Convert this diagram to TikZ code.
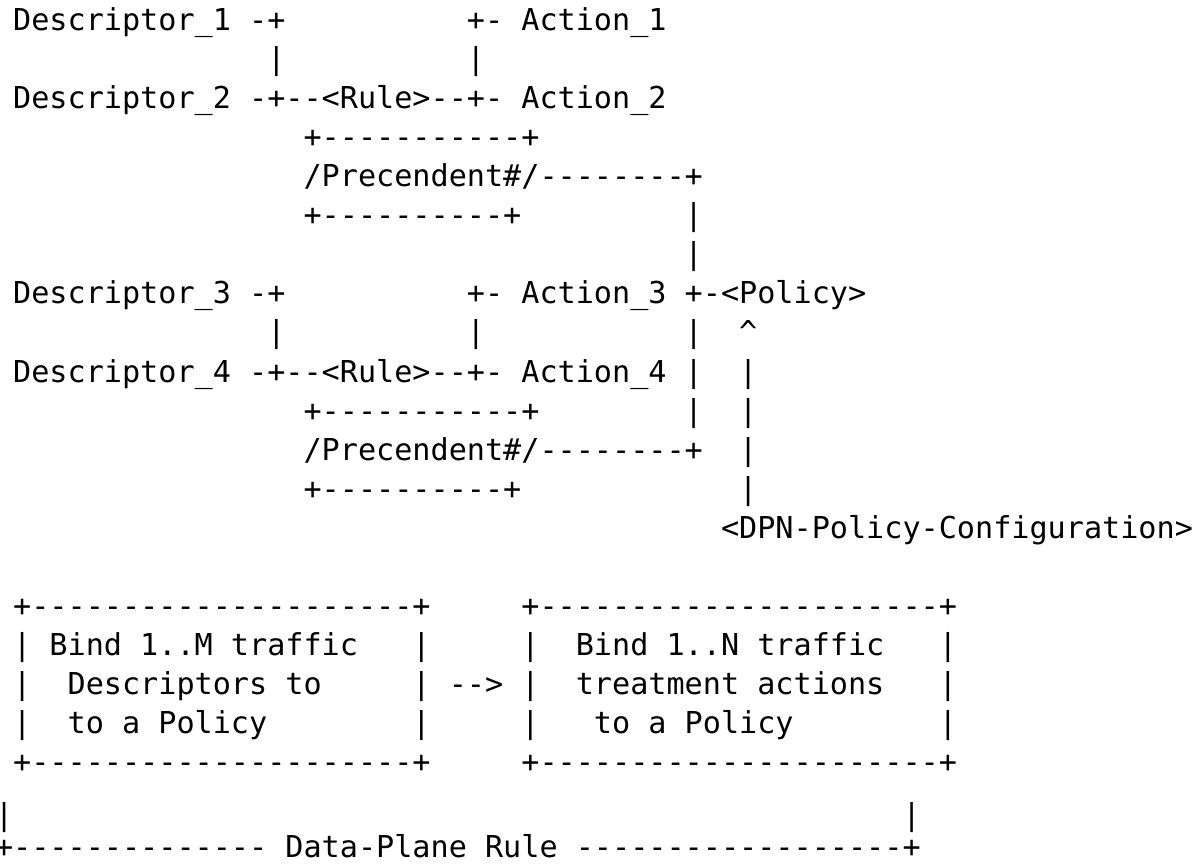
\documentclass[tikz,border=0pt]{standalone}
\usepackage{fontspec}
\setmonofont{DejaVu Sans Mono}
\newcommand{\cw}{18.15}
\newcommand{\xo}{-5}
\newcommand{\yo}{31}
\newcommand{\lp}{39.0}
\tikzset{
  txt/.style={inner sep=0pt, outer sep=0pt, anchor=base west,
    font=\ttfamily\fontsize{30.15pt}{30.15pt}\selectfont, text=black}
}
% \seg{name}{col}{row}{text}
\newcommand{\seg}[4]{\node[txt] (#1) at ({(\xo+#2*\cw)*1pt},{-(\yo+(#3-1)*\lp)*1pt}) {#4};}
\newcommand{\segy}[4]{\node[txt] (#1) at ({(\xo+#2*\cw)*1pt},{-(#3)*1pt}) {#4};}
\begin{document}
\begin{tikzpicture}
\useasboundingbox (0,0) rectangle (1196pt,-866pt);
% upper part: rules and policy
\seg{a1}{1}{1}{Descriptor\_1 -+}
\seg{a2}{26}{1}{+- Action\_1}
\seg{b1}{15}{2}{|}
\seg{b2}{26}{2}{|}
\seg{c1}{1}{3}{Descriptor\_2 -+--<Rule>--+- Action\_2}
\seg{d1}{17}{4}{+-----------+}
\seg{e1}{17}{5}{/Precendent\#/--------+}
\seg{f1}{17}{6}{+----------+}
\seg{f2}{38}{6}{|}
\seg{g1}{38}{7}{|}
\seg{h1}{1}{8}{Descriptor\_3 -+}
\seg{h2}{26}{8}{+- Action\_3 +-<Policy>}
\seg{i1}{15}{9}{|}
\seg{i2}{26}{9}{|}
\seg{i3}{38}{9}{|}
\seg{i4}{41}{9}{\textasciicircum}
\seg{j1}{1}{10}{Descriptor\_4 -+--<Rule>--+- Action\_4 |}
\seg{j2}{41}{10}{|}
\seg{k1}{17}{11}{+-----------+}
\seg{k2}{38}{11}{|}
\seg{k3}{41}{11}{|}
\seg{l1}{17}{12}{/Precendent\#/--------+}
\seg{l2}{41}{12}{|}
\seg{m1}{17}{13}{+----------+}
\seg{m2}{41}{13}{|}
\seg{n1}{40}{14}{<DPN-Policy-Configuration>}
% boxes
\seg{p1}{1}{16}{+---------------------+}
\seg{p2}{29}{16}{+----------------------+}
\seg{q1}{1}{17}{|}
\seg{q2}{3}{17}{Bind 1..M traffic}
\seg{q3}{23}{17}{|}
\seg{q4}{29}{17}{|}
\seg{q5}{32}{17}{Bind 1..N traffic}
\seg{q6}{52}{17}{|}
\seg{r1}{1}{18}{|}
\seg{r2}{4}{18}{Descriptors to}
\seg{r3}{23}{18}{|}
\seg{r4}{25}{18}{-->}
\seg{r5}{29}{18}{|}
\seg{r6}{32}{18}{treatment actions}
\seg{r7}{52}{18}{|}
\seg{s1}{1}{19}{|}
\seg{s2}{4}{19}{to a Policy}
\seg{s3}{23}{19}{|}
\seg{s4}{29}{19}{|}
\seg{s5}{33}{19}{to a Policy}
\seg{s6}{52}{19}{|}
\seg{t1}{1}{20}{+---------------------+}
\seg{t2}{29}{20}{+----------------------+}
% data-plane rule bracket
\segy{u1}{0}{825}{|}
\segy{u2}{50}{825}{|}
\segy{v1}{0}{857}{+-------------- Data-Plane Rule ------------------+}
\end{tikzpicture}
\end{document}
